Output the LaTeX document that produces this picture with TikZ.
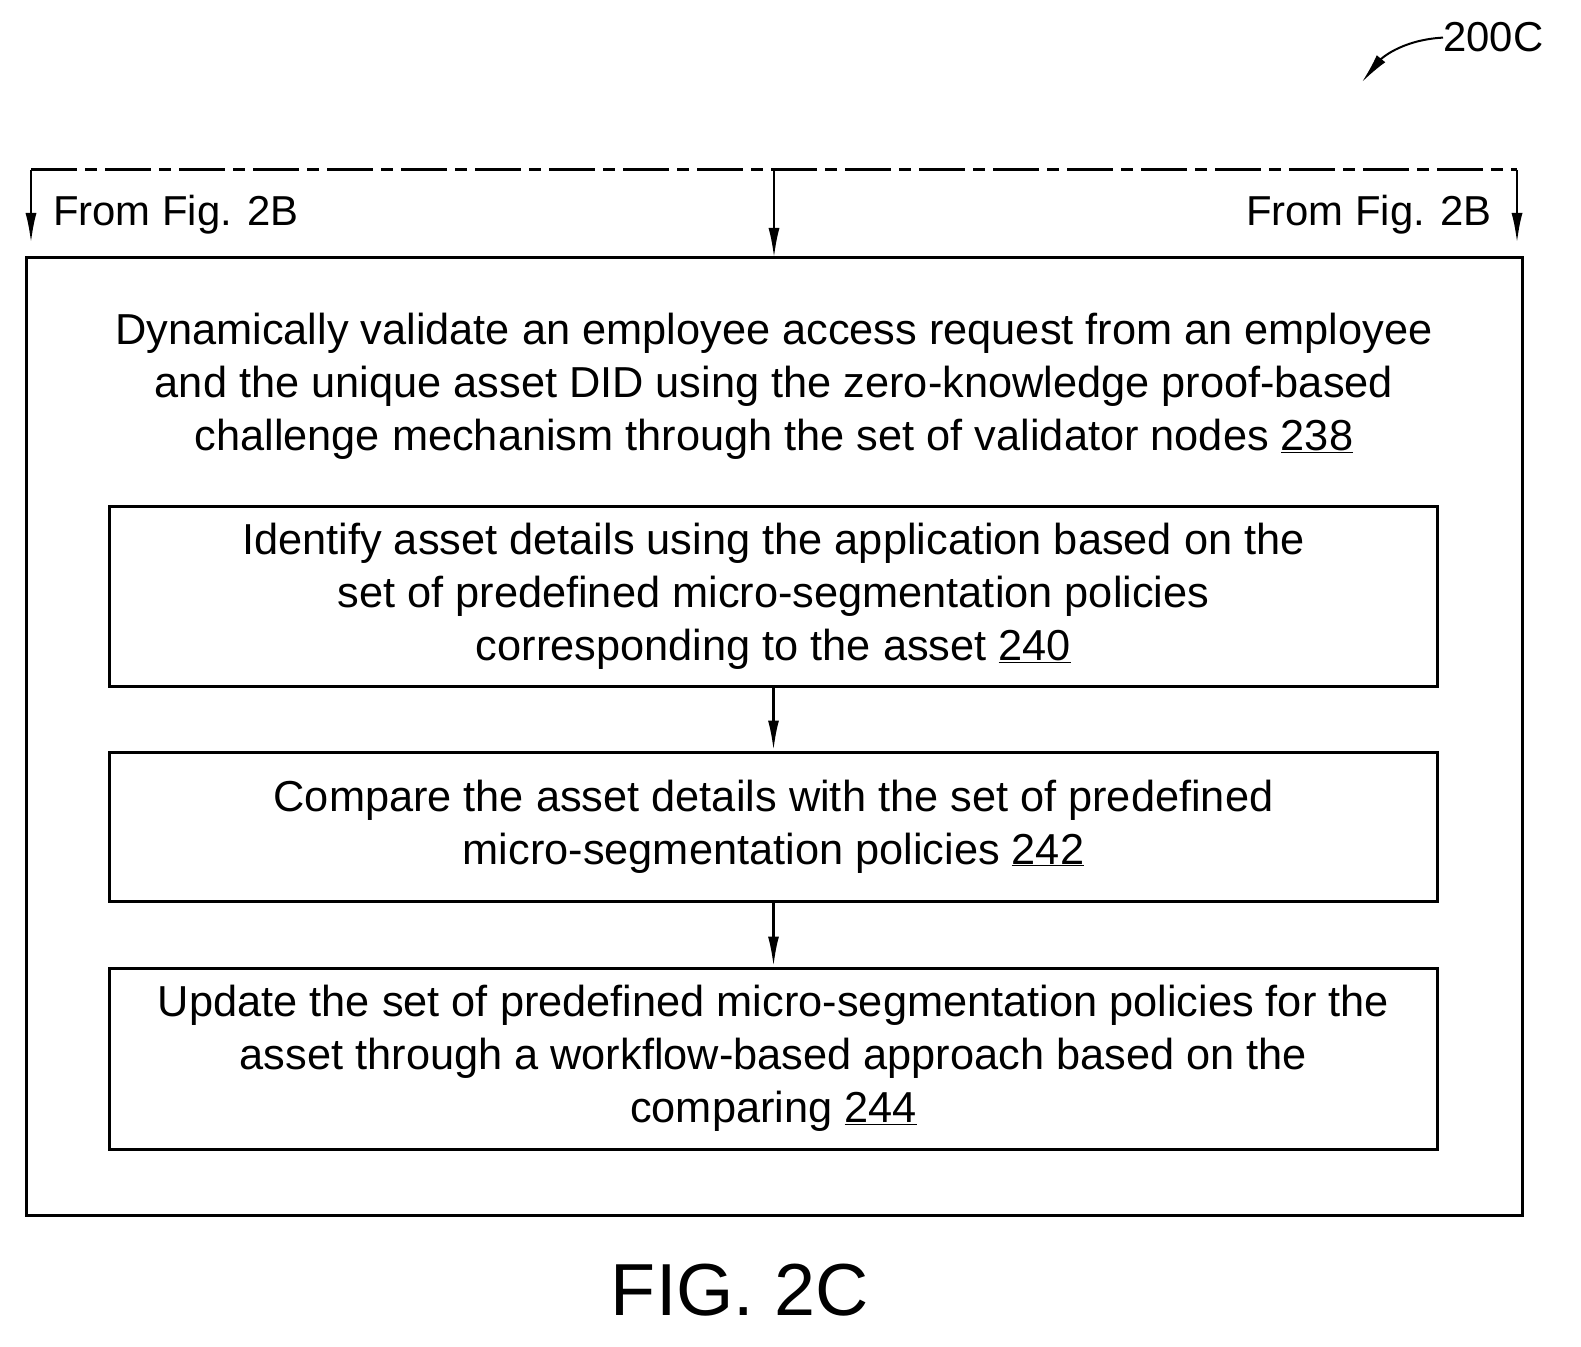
\documentclass[tikz,border=0pt]{standalone}
\usepackage{fontspec}
\setmainfont{Liberation Sans}
\usetikzlibrary{arrows.meta}
\begin{document}
\begin{tikzpicture}[x=1bp,y=-1bp,
  arr/.style={-{Latex[length=30bp,width=11bp]},line width=2.5bp},
  boxs/.style={draw,line width=3bp},
  txt/.style={font=\fontsize{43.5}{53}\selectfont,align=center},
  lbl/.style={font=\fontsize{42}{46}\selectfont,inner sep=0pt,anchor=base}]
\useasboundingbox (0,0) rectangle (1581,1347);
\draw[boxs] (26,258) rectangle (1522,1215);
\coordinate (tl) at (31,170); \coordinate (tm) at (774,170); \coordinate (tr) at (1517,170);
\coordinate (al) at (31,243); \coordinate (am) at (774,258); \coordinate (ar) at (1517,243);
\draw[line width=3bp,dash pattern=on 46bp off 8bp on 12bp off 8bp] (tl) -- (tr);
\draw[arr] (tl) -- (al);
\draw[arr] (tm) -- (am);
\draw[arr] (tr) -- (ar);
\node[lbl,anchor=base west] (fl) at (53,226) {From Fig. 2B};
\node[lbl,anchor=base east] (fr) at (1492,226) {From Fig. 2B};
\node[txt] (t238) at (774,386) {Dynamically validate an employee access request from an employee\\and the unique asset DID using the zero-knowledge proof-based\\challenge mechanism through the set of validator nodes \underline{238}};
\node[boxs,txt,minimum width=1327bp,minimum height=180bp,inner sep=0] (b240) at (773.5,596) {Identify asset details using the application based on the\\set of predefined micro-segmentation policies\\corresponding to the asset \underline{240}};
\node[boxs,txt,minimum width=1327bp,minimum height=149bp,inner sep=0] (b242) at (773.5,826.5) {Compare the asset details with the set of predefined\\micro-segmentation policies \underline{242}};
\node[boxs,txt,minimum width=1327bp,minimum height=181bp,inner sep=0] (b244) at (773.5,1058.5) {Update the set of predefined micro-segmentation policies for the\\asset through a workflow-based approach based on the\\comparing \underline{244}};
\draw[arr] (b240.south) -- (b242.north);
\draw[arr] (b242.south) -- (b244.north);
\node[font=\fontsize{74}{80}\selectfont,inner sep=0,anchor=base] (fig) at (740,1315) {FIG. 2C};
\node[lbl,anchor=base west] (ref) at (1443,52) {200C};
\draw[arr,line width=2bp] (ref.west) .. controls (1400,40) and (1380,60) .. (1362,82);
\end{tikzpicture}
\end{document}
